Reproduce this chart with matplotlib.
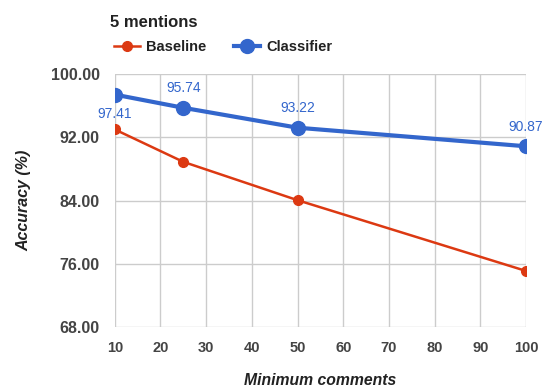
import matplotlib
matplotlib.use('Agg')
import matplotlib.pyplot as plt

plt.rcParams['font.family'] = ['Liberation Sans', 'DejaVu Sans']

# data
min_comments = [10, 25, 50, 100]
baseline = [93.0, 88.9, 84.05, 75.1]
classifier = [97.41, 95.74, 93.22, 90.87]
y_ticks = [68, 76, 84, 92, 100]
x_ticks = [10, 20, 30, 40, 50, 60, 70, 80, 90, 100]

red = '#dc3912'
blue = '#3366cc'

fig = plt.figure(figsize=(5.44, 3.88), dpi=100)
ax = fig.add_axes([0.211, 0.157, 0.756, 0.652])

ax.plot(min_comments, baseline, color=red, lw=1.8, marker='o', ms=7, label='Baseline', zorder=3)
ax.plot(min_comments, classifier, color=blue, lw=3, marker='o', ms=10, label='Classifier', zorder=4)

# value labels on the classifier line
offsets = [(0, -14), (0, 14), (0, 14), (0, 14)]
for x, y, off in zip(min_comments, classifier, offsets):
    ax.annotate('%.2f' % y, (x, y), xytext=off, textcoords='offset points',
                ha='center', va='center', color=blue, fontsize=10)

ax.set_xlim(10, 100)
ax.set_ylim(68, 100)
ax.set_xticks(x_ticks)
ax.set_yticks(y_ticks)
ax.set_yticklabels(['%.2f' % v for v in y_ticks])
ax.grid(True, color='#cccccc', lw=1)
ax.set_axisbelow(True)
for s in ax.spines.values():
    s.set_visible(False)
ax.tick_params(length=0, colors='#444444')
ax.tick_params(axis='x', labelsize=10.5, pad=10)
ax.tick_params(axis='y', labelsize=11.5, pad=11)
for lab in ax.get_xticklabels() + ax.get_yticklabels():
    lab.set_fontweight('bold')

ax.set_xlabel('Minimum comments', fontsize=11.3, fontweight='bold', style='italic', color='#222222', labelpad=13)
ax.set_ylabel('Accuracy (%)', fontsize=11.5, fontweight='bold', style='italic', color='#222222', labelpad=14)

fig.text(0.203, 0.942, '5 mentions', fontsize=12, fontweight='bold', color='#222222', va='center')
leg = fig.legend(loc='center left', bbox_to_anchor=(0.185, 0.879), ncol=2, frameon=False,
                 fontsize=10.5, handlelength=1.8, columnspacing=1.9, handletextpad=0.4)
for t in leg.get_texts():
    t.set_fontweight('bold')
    t.set_color('#222222')

fig.savefig('out.png', dpi=100)
